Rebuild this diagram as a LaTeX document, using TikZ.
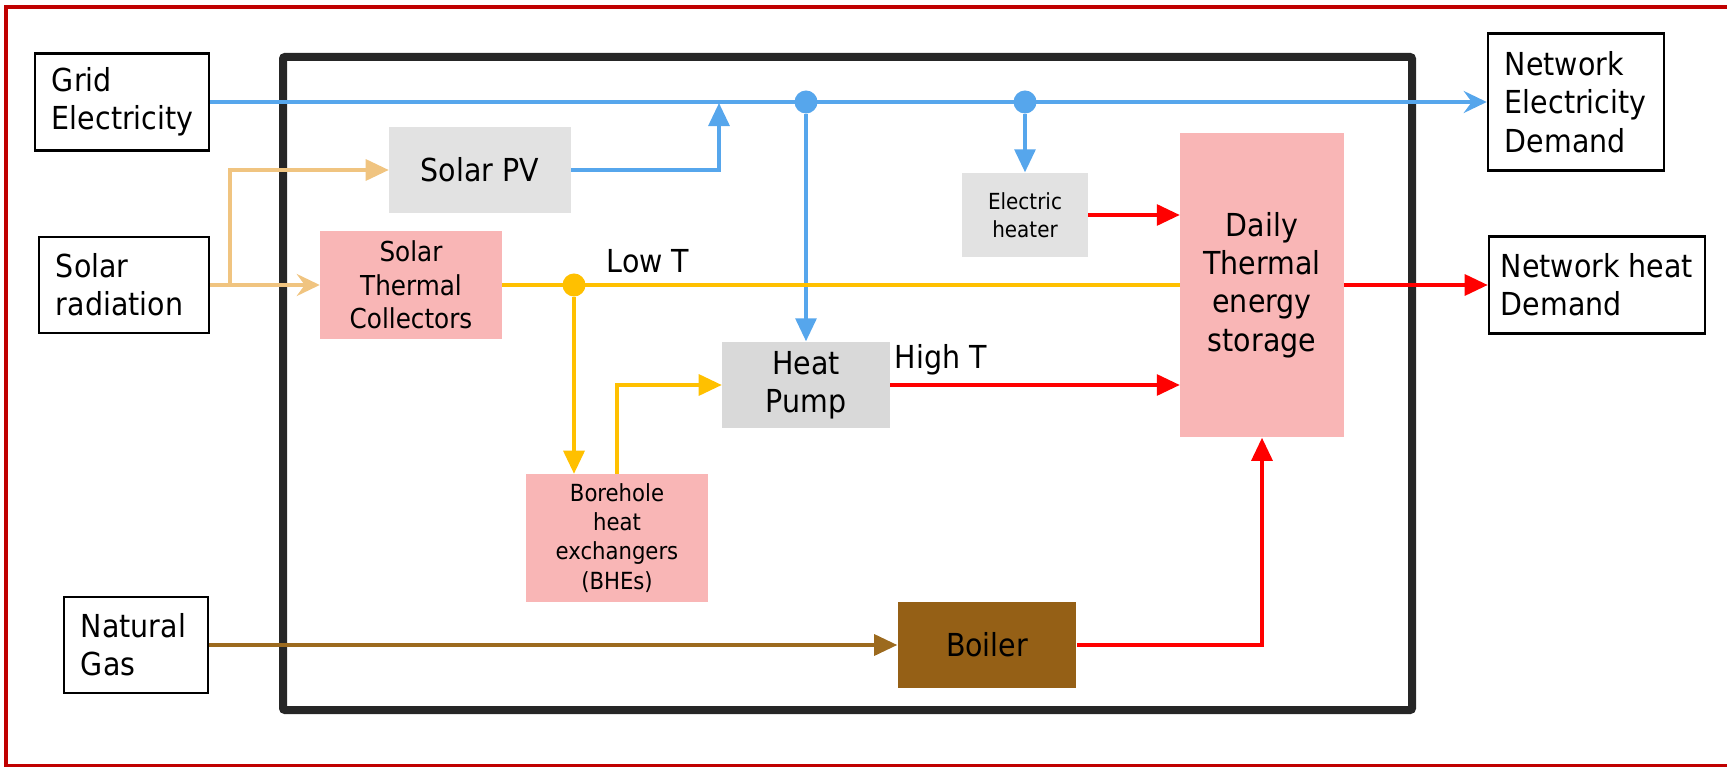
\documentclass[tikz,border=0pt]{standalone}
\usepackage{fontspec}
\setmainfont{DejaVu Sans Condensed}
\usepackage{tikz}
\usetikzlibrary{arrows.meta,positioning}
\definecolor{frred}{RGB}{192,0,0}
\definecolor{elblue}{RGB}{86,166,236}
\definecolor{soltan}{RGB}{240,196,128}
\definecolor{lowyel}{RGB}{255,192,0}
\definecolor{heatred}{RGB}{255,0,0}
\definecolor{gasbrown}{RGB}{156,106,30}
\definecolor{boilbrown}{RGB}{149,96,22}
\definecolor{pvgrey}{RGB}{226,226,226}
\definecolor{hpgrey}{RGB}{217,217,217}
\definecolor{stpink}{RGB}{249,182,182}
\tikzset{
  srcbox/.style={draw=black, fill=white, line width=0.7pt, align=left,
    inner xsep=0.17cm, inner ysep=0pt, font=\fontsize{9}{10.9}\selectfont},
  unitbox/.style={inner sep=0pt, align=center, font=\fontsize{9}{10.9}\selectfont},
  greybox/.style={unitbox, fill=pvgrey},
  pinkbox/.style={unitbox, fill=stpink},
  jdot/.style={circle, inner sep=0pt, minimum size=0.23cm},
  elline/.style={draw=elblue, line width=0.9pt},
  solline/.style={draw=soltan, line width=0.9pt},
  lowline/.style={draw=lowyel, line width=0.9pt},
  heatline/.style={draw=heatred, line width=0.9pt},
  gasline/.style={draw=gasbrown, line width=0.9pt},
  tri/.style={-{Triangle[length=0.23cm, width=0.21cm]}},
  stl/.style={-{Stealth[length=0.23cm, width=0.22cm, inset=0.08cm]}}
}

\begin{document}
\begin{tikzpicture}[x=0.01cm, y=-0.01cm]
  \useasboundingbox (0,0) rectangle (1727,767);
  \draw[frred, line width=0.04cm] (1760,7) -- (6,7) -- (6,766) -- (1760,766);
  \draw[black!85, line width=0.08cm, rounded corners=0.02cm] (283,57) rectangle (1412,710);

  \node[srcbox, text width=1.40cm, minimum height=0.97cm] (grid) at (122,102) {Grid\\Electricity};
  \node[srcbox, text width=1.36cm, minimum height=0.96cm] (solrad) at (124,285) {Solar\\radiation};
  \node[srcbox, text width=1.10cm, minimum height=0.96cm] (gas) at (136,645) {Natural\\Gas};
  \node[srcbox, text width=1.42cm, minimum height=1.37cm] (ned) at (1576,102) {Network\\Electricity\\Demand};
  \node[srcbox, inner xsep=0pt, minimum width=2.16cm, minimum height=0.97cm] (nhd) at (1597,285) {Network heat\\Demand};

  \node[greybox, minimum width=1.81cm, minimum height=0.86cm] (pv) at (480,170) {Solar PV};
  \node[pinkbox, minimum width=1.81cm, minimum height=1.07cm, font=\fontsize{7.8}{9.5}\selectfont] (stc) at (411,285) {Solar\\Thermal\\Collectors};
  \node[greybox, minimum width=1.25cm, minimum height=0.84cm, font=\fontsize{6.3}{7.9}\selectfont] (heater) at (1025,215) {Electric\\heater};
  \node[pinkbox, minimum width=1.63cm, minimum height=3.04cm] (storage) at (1262,285) {Daily\\Thermal\\energy\\storage};
  \node[unitbox, fill=hpgrey, minimum width=1.67cm, minimum height=0.86cm] (hp) at (806,385) {Heat\\Pump};
  \node[pinkbox, minimum width=1.82cm, minimum height=1.27cm, font=\fontsize{6.7}{8.3}\selectfont] (bhe) at (617,538) {Borehole\\heat\\exchangers\\(BHEs)};
  \node[unitbox, fill=boilbrown, minimum width=1.78cm, minimum height=0.86cm] (boiler) at (987,645) {Boiler};

  \node[anchor=base west, inner sep=0pt, font=\fontsize{9}{10.9}\selectfont] (lowt) at (606,272) {Low T};
  \node[anchor=base west, inner sep=0pt, font=\fontsize{9}{10.9}\selectfont] (hight) at (894,368) {High T};

  \coordinate (pvjoin) at (719,103);
  \coordinate (solsplit) at (230,285);

  % electricity
  \draw[elline, stl] (grid) -- (ned);
  \draw[elline, tri] (pv) -| (pvjoin);
  \node[jdot, fill=elblue] (ed1) at (806,102) {};
  \node[jdot, fill=elblue] (ed2) at (1025,102) {};
  \draw[elline, tri] (ed1) -- (ed1 |- hp.north);
  \draw[elline, tri] (ed2) -- (heater);

  % solar
  \draw[solline, stl] (solrad) -- (stc);
  \draw[solline, tri] (solsplit) |- (pv);

  % low temperature
  \draw[lowline] (stc) -- (storage);
  \node[jdot, fill=lowyel] (ld) at (574,285) {};
  \draw[lowline, tri] (ld) -- (ld |- bhe.north);
  \draw[lowline, tri] (bhe.north) |- (hp);

  % heat
  \draw[heatline, tri] (heater) -- (heater -| storage.west);
  \draw[heatline, tri] (hp) -- (hp -| storage.west);
  \draw[heatline, tri] (storage) -- (nhd);
  \draw[heatline, tri] (boiler) -| (storage);

  % gas
  \draw[gasline, tri] (gas) -- (boiler);
\end{tikzpicture}
\end{document}
